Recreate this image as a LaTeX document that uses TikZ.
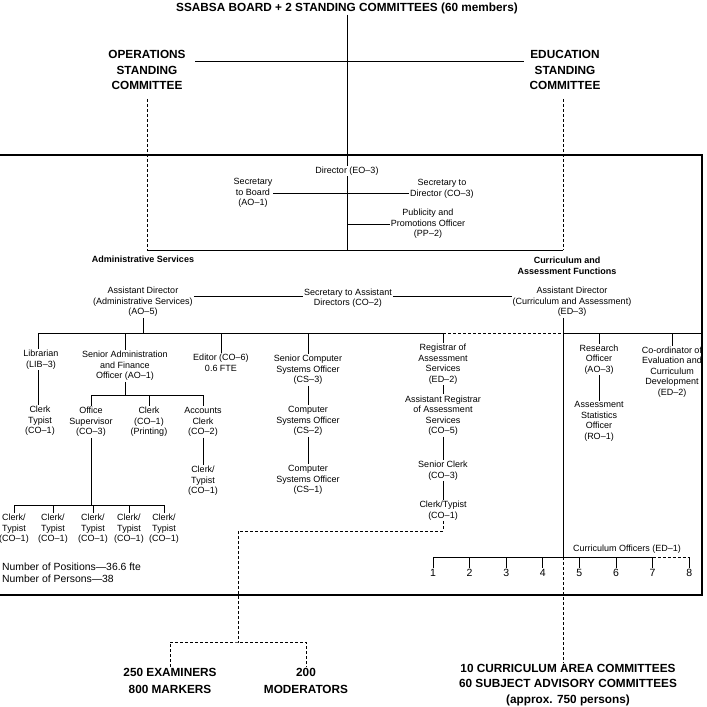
\documentclass[tikz,border=0pt]{standalone}
\usepackage{fontspec}
\setmainfont{Liberation Sans}
\usetikzlibrary{positioning}
\tikzset{
  post/.style={align=center, inner sep=1pt, font=\fontsize{9}{10.5}\selectfont},
  unit/.style={align=center, inner sep=1pt, font=\bfseries\fontsize{9}{11}\selectfont},
  board/.style={align=center, inner sep=1pt, font=\bfseries\fontsize{11.8}{15.5}\selectfont},
  orgline/.style={line width=0.8pt},
  looseline/.style={line width=0.8pt, dash pattern=on 3pt off 2pt},
  frameline/.style={line width=1.1pt}
}

\begin{document}
\begin{tikzpicture}[x=1pt, y=-1pt]
\useasboundingbox (0,0) rectangle (707,707);

% board and standing committees
\node[board] (board) at (347,8) {SSABSA BOARD + 2 STANDING COMMITTEES (60 members)};
\node[board] (ops) at (147,70) {OPERATIONS\\STANDING\\COMMITTEE};
\node[board] (edu) at (565,70) {EDUCATION\\STANDING\\COMMITTEE};
\coordinate (opsEnd) at (195,61);
\coordinate (eduEnd) at (524,61);
\draw[orgline] (opsEnd) -- (eduEnd);

% the office
\draw[frameline] (0,155) -- (702,155) -- (702,595) -- (0,595);

\node[post] (dir) at (347,171) {Director (EO--3)};
\draw[orgline] (board.south) -- (dir.north);
\coordinate (admJ) at (147,250);
\coordinate (dirJ) at (347,250);
\coordinate (curJ) at (563,250);
\draw[looseline, shorten <=8pt] (ops.south) -- (admJ);
\draw[looseline, shorten <=8pt] (edu.south -| curJ) -- (curJ);
\draw[orgline] (dir.south) -- (dirJ);
\draw[orgline] (admJ) -- (curJ);

\node[post] (secBoard) at (253,193) {Secretary\\to Board\\(AO--1)};
\node[post] (secDir) at (442,189) {Secretary to\\Director (CO--3)};
\node[post] (pub) at (428,224) {Publicity and\\Promotions Officer\\(PP--2)};
\draw[orgline] (secBoard.east) -- (secBoard.east -| secDir.west);
\draw[orgline] (pub.west) -- (pub.west -| dir);

\node[unit] (adm) at (143,259) {Administrative Services};
\node[unit] (cur) at (567,265.5) {Curriculum and\\Assessment Functions};

% assistant directors
\node[post] (adAdm) at (143,302) {Assistant Director\\(Administrative Services)\\(AO--5)};
\node[post] (secAsst) at (348,298) {Secretary to Assistant\\Directors (CO--2)};
\node[post] (adCur) at (572,302) {Assistant Director\\(Curriculum and Assessment)\\(ED--3)};
\coordinate (secY) at (0,296);
\draw[orgline] (adAdm.east |- secY) -- (secAsst.west |- secY);
\draw[orgline] (secAsst.east |- secY) -- (adCur.west |- secY);

\coordinate (barL) at (38,333);
\coordinate (regJ) at (443,333);
\coordinate (curBar) at (563,333);
\coordinate (barR) at (702,333);
\draw[orgline] (adAdm.south) -- (adAdm.south |- barL);
\draw[orgline] (barL) -- (regJ);
\draw[looseline] (regJ) -- (curBar);
\draw[orgline] (curBar) -- (barR);

% administrative services
\node[post] (lib) at (41,359.5) {Librarian\\(LIB--3)};
\node[post] (libClerk) at (40,421) {Clerk\\Typist\\(CO--1)};
\draw[orgline] (barL) -- (barL |- lib.north);
\draw[orgline] (barL |- lib.south) -- (barL |- libClerk.north);

\node[post] (saf) at (125,366) {Senior Administration\\and Finance\\Officer (AO--1)};
\draw[orgline] (saf.north |- barL) -- (saf.north);
\node[post] (offSup) at (91,422) {Office\\Supervisor\\(CO--3)};
\node[post] (prtClerk) at (149,422) {Clerk\\(CO--1)\\(Printing)};
\node[post] (accClerk) at (203,422) {Accounts\\Clerk\\(CO--2)};
\node[post] (accTypist) at (203,481) {Clerk/\\Typist\\(CO--1)};
\coordinate (safY) at (0,395);
\draw[orgline] (saf.south) -- (saf.south |- safY);
\draw[orgline] (offSup.north |- safY) -- (accClerk.north |- safY);
\foreach \n in {offSup,prtClerk,accClerk}
  \draw[orgline] (\n.north |- safY) -- (\n.north);
\draw[orgline] (accClerk.south) -- (accTypist.north);

\foreach \i/\x in {1/14,2/53,3/93,4/129,5/164}
  \node[post] (typist\i) at (\x,529) {Clerk/\\Typist\\(CO--1)};
\coordinate (typY) at (0,505);
\draw[orgline] (offSup.south) -- (offSup.south |- typY);
\draw[orgline] (typist1.north |- typY) -- (typist5.north |- typY);
\foreach \i in {1,...,5}
  \draw[orgline] (typist\i.north |- typY) -- (typist\i.north);

\node[post] (editor) at (221,363) {Editor (CO--6)\\0.6 FTE};
\draw[orgline] (editor.north |- barL) -- (editor.north);

\node[post] (csThree) at (308,370) {Senior Computer\\Systems Officer\\(CS--3)};
\node[post] (csTwo) at (308,421) {Computer\\Systems Officer\\(CS--2)};
\node[post] (csOne) at (308,480) {Computer\\Systems Officer\\(CS--1)};
\draw[orgline] (csThree.north |- barL) -- (csThree.north);
\draw[orgline] (csThree.south) -- (csTwo.north);
\draw[orgline] (csTwo.south) -- (csOne.north);

\node[post] (reg) at (443,364) {Registrar of\\Assessment\\Services\\(ED--2)};
\node[post] (asstReg) at (443,415.5) {Assistant Registrar\\of Assessment\\Services\\(CO--5)};
\node[post] (senClerk) at (443,470.5) {Senior Clerk\\(CO--3)};
\node[post] (regTypist) at (443,510.5) {Clerk/Typist\\(CO--1)};
\draw[orgline] (regJ) -- (reg.north);
\draw[orgline] (reg.south) -- (asstReg.north);
\draw[orgline] (asstReg.south) -- (senClerk.north);
\draw[orgline] (senClerk.south) -- (regTypist.north);

% examiners and moderators
\node[board, font=\bfseries\fontsize{11.8}{17}\selectfont] (exam) at (170,680.5) {250 EXAMINERS\\800 MARKERS};
\node[board, font=\bfseries\fontsize{11.8}{17}\selectfont] (moder) at (306,680.5) {200\\MODERATORS};
\coordinate (examBend) at (238,531);
\coordinate (examJ) at (238,642);
\draw[looseline] (regTypist.south) |- (examBend) -- (examJ);
\draw[looseline] (exam.north) |- (examJ) -| (moder.north);

% curriculum and assessment
\node[post] (res) at (599,359.5) {Research\\Officer\\(AO--3)};
\node[post] (stat) at (599,421.5) {Assessment\\Statistics\\Officer\\(RO--1)};
\node[post] (coord) at (672,372) {Co-ordinator of\\Evaluation and\\Curriculum\\Development\\(ED--2)};
\draw[orgline] (res.north |- barL) -- (res.north);
\draw[orgline] (res.south) -- (stat.north);
\draw[orgline] (coord.north |- barL) -- (coord.north);

\node[post] (coLabel) at (627,549) {Curriculum Officers (ED--1)};
\foreach \n in {1,...,8}
  \node[post, font=\fontsize{10.5}{12}\selectfont] (co\n) at ({433+36.6*(\n-1)},573) {\n};
\coordinate (coY) at (0,557);
\coordinate (coJ) at (563,557);
\draw[orgline] (co1.north |- coY) -- (co7.north |- coY);
\draw[looseline] (co7.north |- coY) -- (co8.north |- coY);
\foreach \n in {1,...,8}
  \draw[orgline] (co\n.north |- coY) -- (co\n.north);
\draw[orgline] (adCur.south -| coJ) -- (coJ);

\node[board] (cac) at (568,685) {10 CURRICULUM AREA COMMITTEES\\60 SUBJECT ADVISORY COMMITTEES\\(approx. 750 persons)};
\draw[looseline] (coJ) -- (cac.north -| coJ);

\node[align=left, anchor=west, inner sep=1pt, font=\fontsize{10.4}{12}\selectfont] (stats) at (1,573) {Number of Positions—36.6 fte\\Number of Persons—38};
\end{tikzpicture}
\end{document}
